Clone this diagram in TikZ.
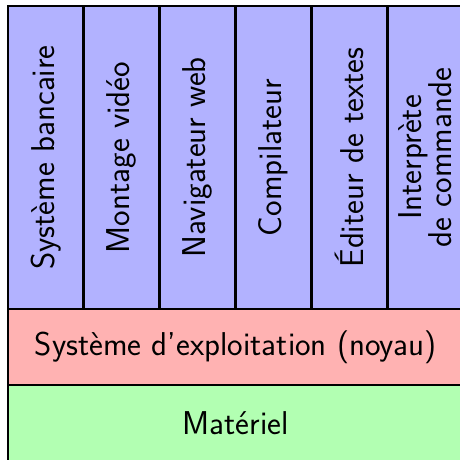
\documentclass[tikz,border=0pt]{standalone}
\usepackage{fontspec}
\begin{document}
\begin{tikzpicture}[x=1pt,y=-1pt,
  layer/.style={draw=black,line width=2.8pt},
  lbl/.style={font=\sffamily\fontsize{33}{29}\selectfont,align=center,inner sep=0pt},
  vlbl/.style={lbl,rotate=90}]
\useasboundingbox (0,0) rectangle (460,459);
% applications
\foreach \i/\t in {0/{Système bancaire},1/{Montage vidéo},2/{Navigateur web},
                   3/{Compilateur},4/{Éditeur de textes},5/{Interprète\\de commande}}{
  \draw[layer,fill=blue!30] ({8+75.83*\i},6) rectangle ({8+75.83*(\i+1)},309);
  \node[vlbl] (app\i) at ({8+75.83*(\i+0.5)},157.5) {\t};
}
% kernel
\draw[layer,fill=red!30] (8,309) rectangle (463,385);
\node[lbl] (os) at (235.5,347) {Système d’exploitation (noyau)};
% hardware
\draw[layer,fill=green!30] (8,385) rectangle (463,461);
\node[lbl] (hw) at (235.5,423) {Matériel};
\end{tikzpicture}
\end{document}
